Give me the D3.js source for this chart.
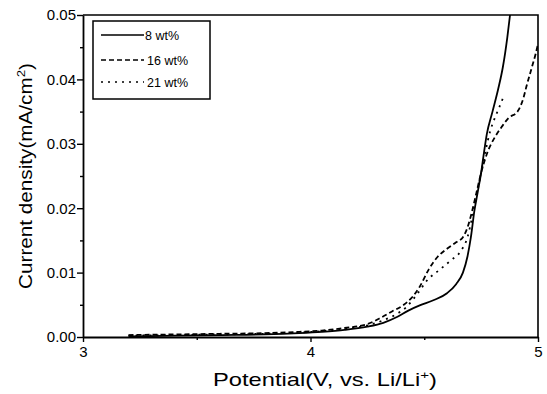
<!DOCTYPE html>
<html>
<head>
<meta charset="utf-8">
<script src="https://cdn.jsdelivr.net/npm/d3@7/dist/d3.min.js"></script>
<style>
  html, body { margin: 0; padding: 0; background: #fff; }
  svg { display: block; font-family: "Liberation Sans", Arial, sans-serif; }
</style>
</head>
<body>
<svg id="chart" width="547" height="394"></svg>
<script>
// Linear sweep voltammetry: potential (V vs. Li/Li+) and current density (mA/cm2)
const seriesNames = ["8 wt%", "16 wt%", "21 wt%"];
const dashStyles = ["none", "5,3", "2,5"];

const wt8 = [
  [3.2,0.0001],[3.4,0.0002],[3.6,0.0003],[3.8,0.0004],[3.95,0.0006],[4.05,0.0008],
  [4.15,0.0011],[4.25,0.0016],[4.32,0.0022],[4.38,0.0031],[4.43,0.0041],[4.48,0.0049],
  [4.54,0.0057],[4.6,0.0068],[4.64,0.0082],[4.67,0.0100],[4.69,0.0125],[4.705,0.0155],
  [4.72,0.0195],[4.735,0.0225],[4.75,0.0255],[4.76,0.0280],[4.775,0.0315],[4.80,0.0350],
  [4.825,0.0385],[4.846,0.0420],[4.865,0.0465],[4.877,0.0500]
];
const wt16 = [
  [3.2,0.0003],[3.4,0.0004],[3.6,0.0005],[3.8,0.0006],[3.95,0.0008],[4.05,0.0010],
  [4.15,0.0014],[4.25,0.0020],[4.31,0.0030],[4.36,0.0040],[4.41,0.0050],[4.45,0.0063],
  [4.48,0.0078],[4.52,0.0105],[4.56,0.0125],[4.6,0.0137],[4.64,0.0147],[4.67,0.0155],
  [4.69,0.0170],[4.71,0.0195],[4.73,0.0225],[4.75,0.0255],[4.776,0.0285],[4.81,0.0310],
  [4.84,0.0326],[4.87,0.0340],[4.91,0.0350],[4.935,0.0370],[4.95,0.0390],[4.974,0.0420],
  [4.99,0.0440],[5.0,0.0455]
];
const wt21 = [
  [3.2,0.0002],[3.4,0.0003],[3.6,0.0004],[3.8,0.0005],[3.95,0.0007],[4.05,0.0009],
  [4.15,0.0013],[4.25,0.0018],[4.32,0.0026],[4.38,0.0036],[4.42,0.0046],[4.45,0.0058],
  [4.48,0.0072],[4.51,0.0087],[4.57,0.0105],[4.62,0.0120],[4.66,0.0133],[4.69,0.0155],
  [4.71,0.0185],[4.73,0.0220],[4.75,0.0255],[4.77,0.0290],[4.79,0.0320],[4.81,0.0340],
  [4.83,0.0357],[4.845,0.0370]
];
const seriesData = [wt8, wt16, wt21];

const xMajorTicks = [3, 4, 5];
const xMinorTicks = [3.5, 4.5];
const yMajorTicks = [0, 0.01, 0.02, 0.03, 0.04, 0.05];
const yMinorTicks = [0.005, 0.015, 0.025, 0.035, 0.045];

const svg = d3.select("#chart");
const plotLeft = 83, plotRight = 538, plotTop = 15, plotBottom = 337;

const x = d3.scaleLinear().domain([3, 5]).range([plotLeft, plotRight]);
const y = d3.scaleLinear().domain([0, 0.05]).range([plotBottom, plotTop]);

// clip curves to plot area
svg.append("defs").append("clipPath").attr("id", "plotclip")
  .append("rect").attr("x", plotLeft).attr("y", plotTop - 1)
  .attr("width", plotRight - plotLeft).attr("height", plotBottom - plotTop + 1);

// frame (top and right)
svg.append("path")
  .attr("d", `M${plotLeft},${plotTop}H${plotRight}V${plotBottom}`)
  .attr("fill", "none").attr("stroke", "#000").attr("stroke-width", 1.6);

// x axis
svg.append("g").attr("transform", `translate(0,${plotBottom})`)
  .call(d3.axisBottom(x).tickValues(xMajorTicks).tickFormat(d3.format("d"))
    .tickSize(5).tickSizeOuter(0).tickPadding(4));
svg.append("g").attr("transform", `translate(0,${plotBottom})`)
  .call(d3.axisBottom(x).tickValues(xMinorTicks).tickFormat("").tickSize(3).tickSizeOuter(0))
  .call(g => g.select(".domain").remove());

// y axis
svg.append("g").attr("transform", `translate(${plotLeft},0)`)
  .call(d3.axisLeft(y).tickValues(yMajorTicks).tickFormat(d3.format(".2f"))
    .tickSize(6).tickSizeOuter(0).tickPadding(1));
svg.append("g").attr("transform", `translate(${plotLeft},0)`)
  .call(d3.axisLeft(y).tickValues(yMinorTicks).tickFormat("").tickSize(3).tickSizeOuter(0))
  .call(g => g.select(".domain").remove());

svg.selectAll(".domain").attr("stroke-width", 1.8);
svg.selectAll(".tick line").attr("stroke-width", 1.4);
svg.selectAll(".tick text").attr("font-size", 15).attr("fill", "#000")
  .attr("font-family", "'Liberation Sans', Arial, sans-serif");

// curves
const line = d3.line().x(d => x(d[0])).y(d => y(d[1])).curve(d3.curveMonotoneX);
const curves = svg.append("g").attr("clip-path", "url(#plotclip)");
seriesData.forEach((data, i) => {
  curves.append("path").datum(data)
    .attr("d", line)
    .attr("fill", "none").attr("stroke", "#000")
    .attr("stroke-width", 1.8)
    .attr("stroke-dasharray", dashStyles[i] === "none" ? null : dashStyles[i]);
});

// legend
const legend = svg.append("g");
legend.append("rect").attr("x", 93).attr("y", 21).attr("width", 117).attr("height", 78)
  .attr("fill", "#fff").attr("stroke", "#000").attr("stroke-width", 1.5);
const legendY = [35, 60, 82];
seriesNames.forEach((name, i) => {
  legend.append("line").attr("x1", 101).attr("x2", 144)
    .attr("y1", legendY[i]).attr("y2", legendY[i])
    .attr("stroke", "#000").attr("stroke-width", 1.6)
    .attr("stroke-dasharray", dashStyles[i] === "none" ? null : dashStyles[i]);
  legend.append("text").attr("x", i === 0 ? 145 : 147).attr("y", legendY[i] + 4.5)
    .attr("font-size", 12.5).text(name);
});

// axis titles, stretched along their run to a set width
function stretchedTitle(cx, cy, angle, width, mainText, supText, tailText) {
  const g = svg.append("g").attr("transform", `translate(${cx},${cy}) rotate(${angle})`);
  const t = g.append("text").attr("x", 0).attr("y", 0).attr("text-anchor", "middle")
    .attr("font-size", 18);
  t.append("tspan").text(mainText);
  t.append("tspan").attr("font-size", 11.5).attr("dy", -7.5).text(supText);
  t.append("tspan").attr("dy", 7.5).text(tailText);
  const w = t.node().getBBox().width;
  t.attr("transform", `scale(${width / w},1)`);
}
stretchedTitle(325, 386, 0, 224, "Potential(V, vs. Li/Li", "+", ")");
stretchedTitle(32, 176, -90, 226, "Current density(mA/cm", "2", ")");
</script>
</body>
</html>
